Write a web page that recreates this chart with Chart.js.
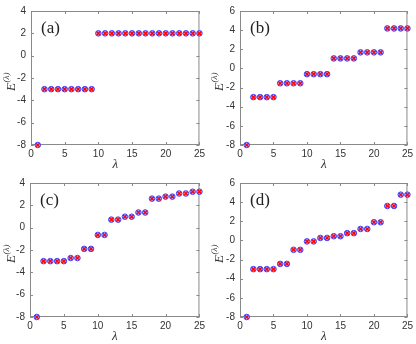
<!DOCTYPE html>
<html>
<head>
<meta charset="utf-8">
<script src="https://cdn.jsdelivr.net/npm/chart.js@4.4.0/dist/chart.umd.min.js"></script>
<style>
html, body { margin: 0; padding: 0; background: #fff; }
#wrap { position: relative; width: 416px; height: 344px; }
canvas { position: absolute; }
</style>
</head>
<body>
<div id="wrap">
    <canvas id="chartA" width="208" height="172" style="left:0;top:0;width:208px;height:172px"></canvas>
    <canvas id="chartB" width="208" height="172" style="left:208px;top:0;width:208px;height:172px"></canvas>
    <canvas id="chartC" width="208" height="172" style="left:0;top:172px;width:208px;height:172px"></canvas>
    <canvas id="chartD" width="208" height="172" style="left:208px;top:172px;width:208px;height:172px"></canvas>
</div>
<script>
// Eigenvalue index (x axis)
const lambdas = [1, 2, 3, 4, 5, 6, 7, 8, 9, 10, 11, 12, 13, 14, 15, 16, 17, 18, 19, 20, 21, 22, 23, 24, 25];

// Energies
const energyA = [-8, -3, -3, -3, -3, -3, -3, -3, -3, 2, 2, 2, 2, 2, 2, 2, 2, 2, 2, 2, 2, 2, 2, 2, 2];
const energyB = [-8, -3, -3, -3, -3, -1.55, -1.55, -1.55, -1.55, -0.6, -0.6, -0.6, -0.6,
                 1.05, 1.05, 1.05, 1.05, 1.68, 1.68, 1.68, 1.68, 4.18, 4.18, 4.18, 4.18];
const energyC = [-8, -3, -3, -3, -3, -2.72, -2.72, -1.9, -1.9, -0.65, -0.65, 0.72, 0.72,
                 0.98, 0.98, 1.36, 1.36, 2.6, 2.6, 2.78, 2.78, 3.06, 3.06, 3.22, 3.22];
const energyD = [-8, -3, -3, -3, -3, -2.45, -2.45, -0.98, -0.98, -0.1, -0.1, 0.26, 0.26,
                 0.44, 0.44, 0.76, 0.76, 1.2, 1.2, 1.9, 1.9, 3.6, 3.6, 4.78, 4.78];

// Axis ranges / tick steps
const xRange = [0, 25];
const xStep = 5;
const yStep = 2;

const panels = [
    { id: 'chartA', label: '(a)', values: energyA, yMin: -8, yMax: 4, left: 31, right: 8 },
    { id: 'chartB', label: '(b)', values: energyB, yMin: -8, yMax: 6, left: 32, right: 6 },
    { id: 'chartC', label: '(c)', values: energyC, yMin: -8, yMax: 4, left: 30, right: 8 },
    { id: 'chartD', label: '(d)', values: energyD, yMin: -8, yMax: 6, left: 32, right: 6 }
];

const axisColor = '#8a8a8a';

// Box, inward ticks, axis titles and panel label
const framePlugin = {
    id: 'frame',
    beforeDatasetsDraw(chart, args, opts) {
        const ctx = chart.ctx;
        const a = chart.chartArea;
        const xs = chart.scales.x;
        const ys = chart.scales.y;
        ctx.save();
        ctx.strokeStyle = axisColor;
        ctx.lineWidth = 1;
        ctx.strokeRect(a.left + 0.5, a.top + 0.5, a.right - a.left - 1, a.bottom - a.top - 1);
        ctx.beginPath();
        xs.ticks.forEach(t => {
            const px = Math.round(xs.getPixelForValue(t.value)) + 0.5;
            ctx.moveTo(px, a.bottom); ctx.lineTo(px, a.bottom - 3);
            ctx.moveTo(px, a.top); ctx.lineTo(px, a.top + 3);
        });
        ys.ticks.forEach(t => {
            const py = Math.round(ys.getPixelForValue(t.value)) + 0.5;
            ctx.moveTo(a.left, py); ctx.lineTo(a.left + 3, py);
            ctx.moveTo(a.right, py); ctx.lineTo(a.right - 3, py);
        });
        ctx.stroke();

        // x title
        ctx.fillStyle = '#333';
        ctx.textAlign = 'center';
        ctx.textBaseline = 'middle';
        ctx.font = 'italic 13px "Liberation Serif", serif';
        ctx.fillText('λ', (a.left + a.right) / 2, 165);

        // y title E^(λ), rotated
        ctx.translate(12, (a.top + a.bottom) / 2 + 4);
        ctx.rotate(-Math.PI / 2);
        ctx.textAlign = 'left';
        ctx.font = 'italic 13px "Liberation Serif", serif';
        const ew = ctx.measureText('E').width;
        ctx.font = 'italic 9px "Liberation Serif", serif';
        const sw = ctx.measureText('(λ)').width;
        const x0 = -(ew + sw) / 2;
        ctx.font = 'italic 13px "Liberation Serif", serif';
        ctx.fillText('E', x0, 0);
        ctx.font = 'italic 9px "Liberation Serif", serif';
        ctx.fillText('(λ)', x0 + ew + 0.5, -5);
        ctx.restore();

        // panel label
        ctx.save();
        ctx.fillStyle = '#222';
        ctx.font = '17px "Liberation Serif", serif';
        ctx.textAlign = 'left';
        ctx.textBaseline = 'middle';
        ctx.fillText(opts.label, a.left + 10, a.top + 18);
        ctx.restore();
    }
};

function createPanel(p) {
    const pts = lambdas.map((l, i) => ({ x: l, y: p.values[i] }));
    new Chart(document.getElementById(p.id), {
        type: 'scatter',
        data: {
            datasets: [{
                data: pts,
                order: 2,
                clip: false,
                pointStyle: 'circle',
                pointRadius: 2.8,
                borderColor: '#4444ff',
                backgroundColor: 'rgba(140,140,255,0.8)',
                borderWidth: 1
            }, {
                data: pts,
                order: 1,
                clip: false,
                pointStyle: 'crossRot',
                pointRadius: 2.6,
                borderColor: '#ff0000',
                borderWidth: 1.3
            }]
        },
        options: {
            responsive: false,
            animation: false,
            layout: { padding: { top: 7, right: p.right, left: 0, bottom: 0 } },
            plugins: {
                legend: { display: false },
                tooltip: { enabled: false },
                frame: { label: p.label }
            },
            scales: {
                x: {
                    type: 'linear',
                    min: xRange[0],
                    max: xRange[1],
                    grid: { display: false, drawTicks: false },
                    border: { display: false },
                    ticks: {
                        stepSize: xStep,
                        color: '#333',
                        padding: 3,
                        maxRotation: 0,
                        font: { family: '"Liberation Sans", Arial, sans-serif', size: 10 }
                    },
                    afterFit: s => { s.height = 27; }
                },
                y: {
                    min: p.yMin,
                    max: p.yMax,
                    grid: { display: false, drawTicks: false },
                    border: { display: false },
                    ticks: {
                        stepSize: yStep,
                        color: '#333',
                        padding: 5,
                        font: { family: '"Liberation Sans", Arial, sans-serif', size: 10 }
                    },
                    afterFit: s => { s.width = p.left; }
                }
            }
        },
        plugins: [framePlugin]
    });
}

panels.forEach(createPanel);
</script>
</body>
</html>
